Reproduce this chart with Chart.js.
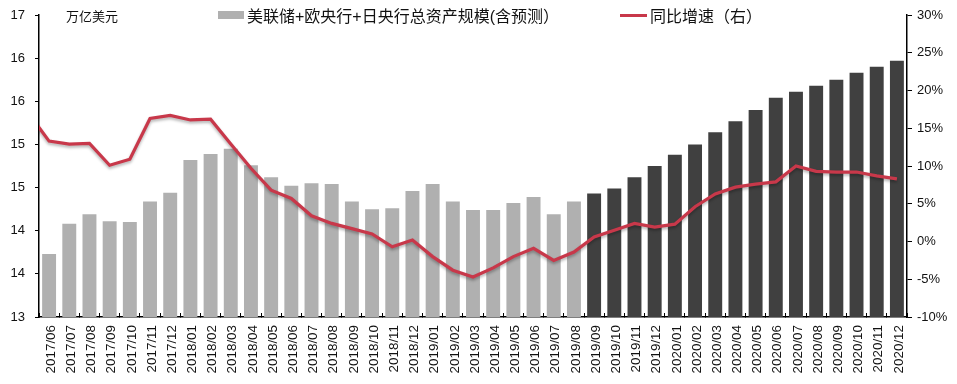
<!DOCTYPE html>
<html>
<head>
<meta charset="utf-8">
<style>
  body { margin: 0; background: #fff; }
  #wrap { position: relative; width: 957px; height: 384px; overflow: hidden; }
  .txt { position: absolute; color: #111; white-space: nowrap; font-family: "Liberation Sans", "Noto Sans CJK SC", sans-serif; }
  .swatch { position: absolute; }
</style>
<script src="https://cdn.jsdelivr.net/npm/chart.js@4"></script>
</head>
<body>
<div id="wrap">
  <canvas id="myChart" width="957" height="384"></canvas>
  <div class="txt" style="left:66px;top:6px;font-size:13px">万亿美元</div>
  <div class="swatch" style="left:218px;top:11px;width:26px;height:8px;background:#b0b0b0"></div>
  <div class="txt" id="barName" style="left:247px;top:3px;font-size:16px"></div>
  <div class="swatch" style="left:620px;top:13.5px;width:27px;height:3px;background:#c8384a"></div>
  <div class="txt" id="lineName" style="left:650px;top:3px;font-size:16px"></div>
</div>
<script>
// first label sits left of the axis, only there so the line enters clipped
const months = ["2017/05","2017/06","2017/07","2017/08","2017/09","2017/10","2017/11","2017/12",
  "2018/01","2018/02","2018/03","2018/04","2018/05","2018/06","2018/07","2018/08","2018/09","2018/10","2018/11","2018/12",
  "2019/01","2019/02","2019/03","2019/04","2019/05","2019/06","2019/07","2019/08","2019/09","2019/10","2019/11","2019/12",
  "2020/01","2020/02","2020/03","2020/04","2020/05","2020/06","2020/07","2020/08","2020/09","2020/10","2020/11","2020/12"];

const assets = [null,13.73,14.08,14.19,14.11,14.10,14.34,14.44,
  14.82,14.89,14.95,14.76,14.62,14.52,14.55,14.54,14.34,14.25,14.26,14.46,
  14.54,14.34,14.24,14.24,14.32,14.39,14.19,14.34,14.43,14.49,14.62,14.75,
  14.88,15.00,15.14,15.27,15.40,15.54,15.61,15.68,15.75,15.83,15.90,15.97];

const growth = [16.9,13.3,12.9,13.0,10.1,10.9,16.3,16.7,
  16.1,16.2,12.9,9.7,6.8,5.7,3.4,2.4,1.7,1.0,-0.7,0.2,
  -2.0,-3.8,-4.7,-3.5,-2.0,-0.9,-2.5,-1.4,0.6,1.5,2.4,1.9,
  2.3,4.6,6.3,7.2,7.6,7.9,10.0,9.3,9.2,9.2,8.7,8.3];

const barName = "美联储+欧央行+日央行总资产规模(含预测）";
const lineName = "同比增速（右）";
const firstForecast = "2019/09";

document.getElementById("barName").textContent = barName;
document.getElementById("lineName").textContent = lineName;

const tickFont = { family: "'Liberation Sans', Arial, sans-serif", size: 13 };
const forecastStart = months.indexOf(firstForecast);
const barColors = months.map((m, i) => i >= forecastStart ? "#404040" : "#b0b0b0");

// soft shadow under the red line
const lineShadow = {
  id: "lineShadow",
  beforeDatasetDraw(chart, args) {
    if (args.meta.type !== "line") return;
    chart.ctx.save();
    chart.ctx.shadowColor = "rgba(0,0,0,0.3)";
    chart.ctx.shadowBlur = 3;
    chart.ctx.shadowOffsetY = 2;
  },
  afterDatasetDraw(chart, args) {
    if (args.meta.type === "line") chart.ctx.restore();
  }
};

new Chart(document.getElementById("myChart"), {
  data: {
    labels: months,
    datasets: [
      {
        type: "line",
        label: lineName,
        data: growth,
        yAxisID: "y2",
        borderColor: "#c8384a",
        borderWidth: 3.2,
        pointRadius: 0,
        tension: 0,
        order: 0
      },
      {
        type: "bar",
        label: barName,
        data: assets,
        yAxisID: "y",
        backgroundColor: barColors,
        categoryPercentage: 1,
        barPercentage: 0.69,
        order: 1
      }
    ]
  },
  plugins: [lineShadow],
  options: {
    responsive: false,
    animation: false,
    layout: { padding: { top: 15 } },
    plugins: { legend: { display: false }, tooltip: { enabled: false } },
    scales: {
      x: {
        min: "2017/06",
        offset: true,
        afterFit: s => { s.height = 67; },
        border: { color: "#000", width: 1.5 },
        grid: { offset: true, drawOnChartArea: false, tickLength: -4, tickColor: "#000", tickWidth: 1 },
        ticks: { color: "#111", font: { family: tickFont.family, size: 13.4 }, autoSkip: false, maxRotation: 90, minRotation: 90, padding: 12, labelOffset: 2 }
      },
      y: {
        position: "left",
        min: 13,
        max: 16.5,
        afterFit: s => { s.width = 39; s.paddingTop = 0; s.paddingBottom = 0; },
        border: { color: "#000", width: 1.5 },
        grid: { drawOnChartArea: false, tickLength: 4, tickColor: "#000", tickWidth: 1 },
        ticks: { stepSize: 0.5, color: "#111", font: tickFont, padding: 10, callback: v => Math.round(v) }
      },
      y2: {
        position: "right",
        min: -10,
        max: 30,
        afterFit: s => { s.width = 50; s.paddingTop = 0; s.paddingBottom = 0; },
        border: { color: "#000", width: 1.5 },
        grid: { drawOnChartArea: false, tickLength: 5, tickColor: "#000", tickWidth: 1 },
        ticks: { stepSize: 5, color: "#111", font: tickFont, padding: 5, callback: v => v + "%" }
      }
    }
  }
});
</script>
</body>
</html>
